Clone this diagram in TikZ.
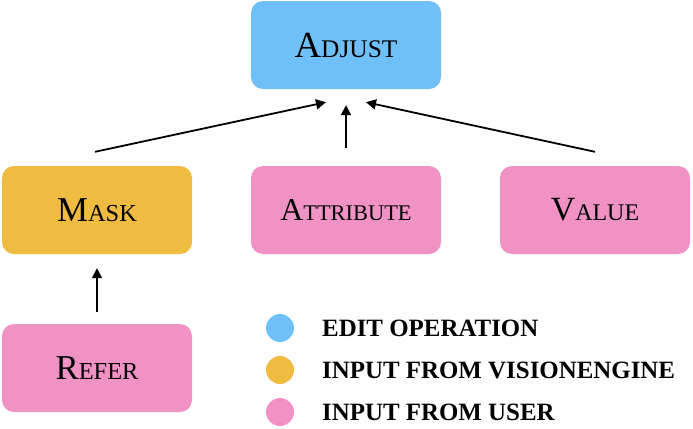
\documentclass[tikz,border=0pt]{standalone}
\usepackage{fontspec}
\setmainfont{Liberation Serif}
\usetikzlibrary{arrows.meta,calc}
\definecolor{opblue}{HTML}{6FC0F9}
\definecolor{visyellow}{HTML}{F0BB41}
\definecolor{userpink}{HTML}{F092C4}
\newcommand\fakesc[4]{{\fontsize{#1}{#1}\selectfont #3}{\fontsize{#2}{#2}\selectfont #4}}
\begin{document}
\begin{tikzpicture}[x=1bp,y=-1bp,
  box/.style={rectangle,rounded corners=12bp,minimum width=190bp,minimum height=88bp,inner sep=0pt},
  conn/.style={line width=1.8bp,-{Triangle[length=10bp,width=10bp]}},
  dot/.style={circle,minimum size=28bp,inner sep=0pt},
  legtext/.style={anchor=west,inner sep=0pt,font=\fontsize{25}{28}\selectfont\bfseries}]
\useasboundingbox (0,0) rectangle (693,428);
\node[box,fill=opblue] (adjust) at (346,45) {\fakesc{37}{25.5}{A}{DJUST}};
\node[box,fill=visyellow] (mask) at (97,210) {\fakesc{35}{24.5}{M}{ASK}};
\node[box,fill=userpink] (attr) at (346,210) {\fakesc{32}{22.5}{A}{TTRIBUTE}};
\node[box,fill=userpink] (value) at (595,210) {\fakesc{34}{24}{V}{ALUE}};
\node[box,fill=userpink] (refer) at (97,368) {\fakesc{35}{24.5}{R}{EFER}};
\draw[conn] ($(mask.north)+(-2,-14)$) -- ($(adjust.south)+(-20,13)$);
\draw[conn] ($(attr.north)+(0,-18)$) -- ($(adjust.south)+(0,16)$);
\draw[conn] ($(value.north)+(0,-14)$) -- ($(adjust.south)+(20,13)$);
\draw[conn] ($(refer.north)+(0,-12)$) -- ($(mask.south)+(0,14)$);
\node[dot,fill=opblue] (d1) at (280,328) {};
\node[dot,fill=visyellow] (d2) at (280,370) {};
\node[dot,fill=userpink] (d3) at (280,412) {};
\node[legtext] (t1) at (322,328) {EDIT OPERATION};
\node[legtext] (t2) at (322,370) {INPUT FROM VISIONENGINE};
\node[legtext] (t3) at (322,412) {INPUT FROM USER};
\end{tikzpicture}
\end{document}
